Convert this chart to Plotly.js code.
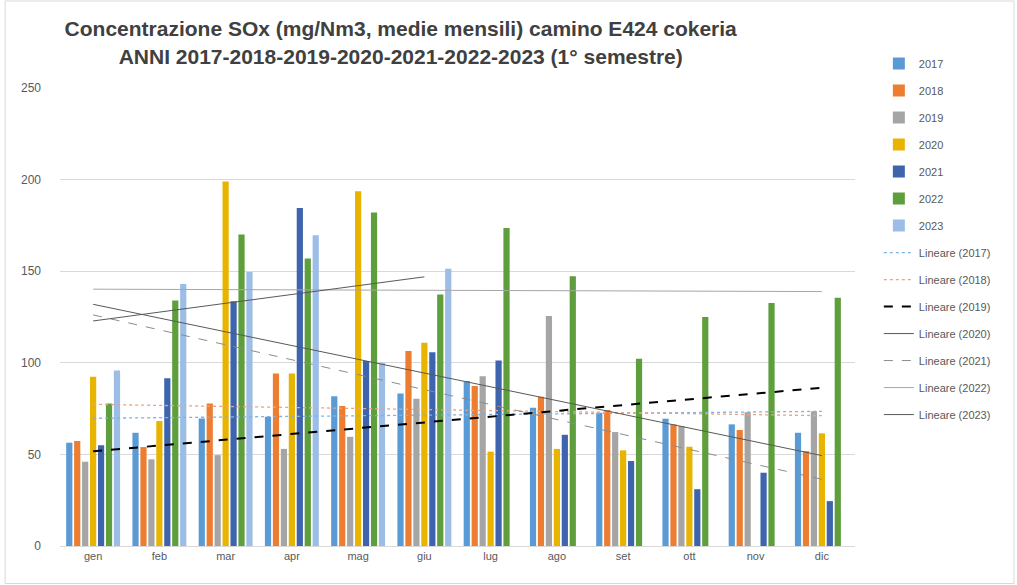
<!DOCTYPE html>
<html>
<head>
<meta charset="utf-8">
<script src="https://cdn.plot.ly/plotly-3.0.1.min.js"></script>
<style>html,body{margin:0;padding:0;background:#fff;}#chart{width:1017px;height:585px;}</style>
</head>
<body>
<div id="chart"></div>
<script>
const months = ["gen","feb","mar","apr","mag","giu","lug","ago","set","ott","nov","dic"];
const years = ["2017","2018","2019","2020","2021","2022","2023"];
const v2017 = [56.4, 61.8, 69.6, 70.5, 81.8, 83.3, 90.0, 75.5, 72.7, 69.5, 66.4, 61.8];
const v2018 = [57.3, 54.0, 77.8, 94.2, 76.4, 106.4, 87.3, 81.5, 74.2, 66.4, 63.3, 51.8];
const v2019 = [46.0, 47.3, 49.6, 53.0, 59.6, 80.4, 92.7, 125.5, 62.2, 65.5, 73.0, 73.6];
const v2020 = [92.4, 68.2, 199.0, 94.2, 193.6, 111.0, 51.5, 53.0, 52.2, 54.2, null, 61.5];
const v2021 = [55.0, 91.5, 133.6, 184.5, 101.0, 105.8, 101.3, 60.7, 46.4, 31.0, 40.0, 24.5];
const v2022 = [77.8, 134.0, 170.0, 157.0, 182.0, 137.3, 173.6, 147.3, 102.2, 125.0, 132.7, 135.5];
const v2023 = [95.8, 143.0, 149.6, 169.6, 100.0, 151.3, null, null, null, null, null, null];
const seriesValues = [v2017, v2018, v2019, v2020, v2021, v2022, v2023];

const barColors = ["#5B9BD5","#ED7D31","#A5A5A5","#E8B400","#3E64AE","#5E9E3C","#9CBDE6"];
const trendStyles = [
  {color:"#7FB2E0", width:1.3, dash:"dot"},
  {color:"#F0A27A", width:1.3, dash:"dot"},
  {color:"#000000", width:2, dash:"dash"},
  {color:"#595959", width:1, dash:"solid"},
  {color:"#8C8C8C", width:1, dash:"dash"},
  {color:"#A6A6A6", width:1, dash:"solid"},
  {color:"#595959", width:1, dash:"solid"}
];

// Linear least-squares trend (Excel "Lineare") computed from each series
function trend(vals) {
  const xs = [], ys = [];
  vals.forEach((v, i) => { if (v !== null) { xs.push(i + 1); ys.push(v); } });
  const n = xs.length;
  const mx = xs.reduce((a, b) => a + b, 0) / n;
  const my = ys.reduce((a, b) => a + b, 0) / n;
  let sxy = 0, sxx = 0;
  for (let i = 0; i < n; i++) { sxy += (xs[i] - mx) * (ys[i] - my); sxx += (xs[i] - mx) ** 2; }
  const b = sxy / sxx, a = my - b * mx;
  const first = xs[0], last = xs[n - 1];
  return {x: months.slice(first - 1, last), y: months.slice(first - 1, last).map((_, k) => a + b * (first + k))};
}

const traces = [];
years.forEach((yr, i) => {
  traces.push({
    type: "bar", name: yr, x: months, y: seriesValues[i],
    marker: {color: barColors[i]}, legendgroup: "b" + yr
  });
});
years.forEach((yr, i) => {
  const t = trend(seriesValues[i]);
  traces.push({
    type: "scatter", mode: "lines", name: "Lineare (" + yr + ")", x: t.x, y: t.y,
    line: trendStyles[i], legendgroup: "t" + yr
  });
});

const layout = {
  width: 1017, height: 585,
  margin: {l: 60, r: 162, t: 88, b: 39},
  paper_bgcolor: "#ffffff", plot_bgcolor: "#ffffff",
  font: {family: "Liberation Sans, Arial, sans-serif", color: "#595959", size: 11},
  title: {
    text: "Concentrazione SOx (mg/Nm3, medie mensili) camino E424 cokeria<br>ANNI 2017-2018-2019-2020-2021-2022-2023 (1° semestre)",
    x: 0.394, xref: "container", xanchor: "center",
    y: 0.938, yref: "container", yanchor: "top",
    font: {family: "Liberation Sans Narrow, Arial Narrow, sans-serif", size: 21, color: "#404040", weight: "bold"}
  },
  barmode: "group", bargap: 0.16, bargroupgap: 0.22,
  xaxis: {
    type: "category", showgrid: false, showline: true, linecolor: "#D9D9D9", linewidth: 1,
    ticks: "", tickfont: {size: 11, color: "#595959"}, fixedrange: true
  },
  yaxis: {
    range: [0, 250], dtick: 50, showgrid: true, gridcolor: "#D9D9D9", gridwidth: 1,
    zeroline: false, showline: false, ticks: "", tickfont: {size: 12, color: "#595959"},
    ticklabelstandoff: 18, fixedrange: true
  },
  legend: {
    x: 1.03, xanchor: "left", y: 1.085, yanchor: "top",
    font: {size: 11, color: "#595959"}, tracegroupgap: 8, itemwidth: 30,
    bgcolor: "rgba(0,0,0,0)", maxheight: 560
  },
  shapes: [{
    type: "rect", xref: "paper", yref: "paper",
    x0: -0.069, x1: 1.2, y0: -0.082, y1: 1.19,
    line: {color: "#D9D9D9", width: 1}
  }],
  showlegend: true
};

Plotly.newPlot("chart", traces, layout, {displayModeBar: false, staticPlot: true});
</script>
</body>
</html>
